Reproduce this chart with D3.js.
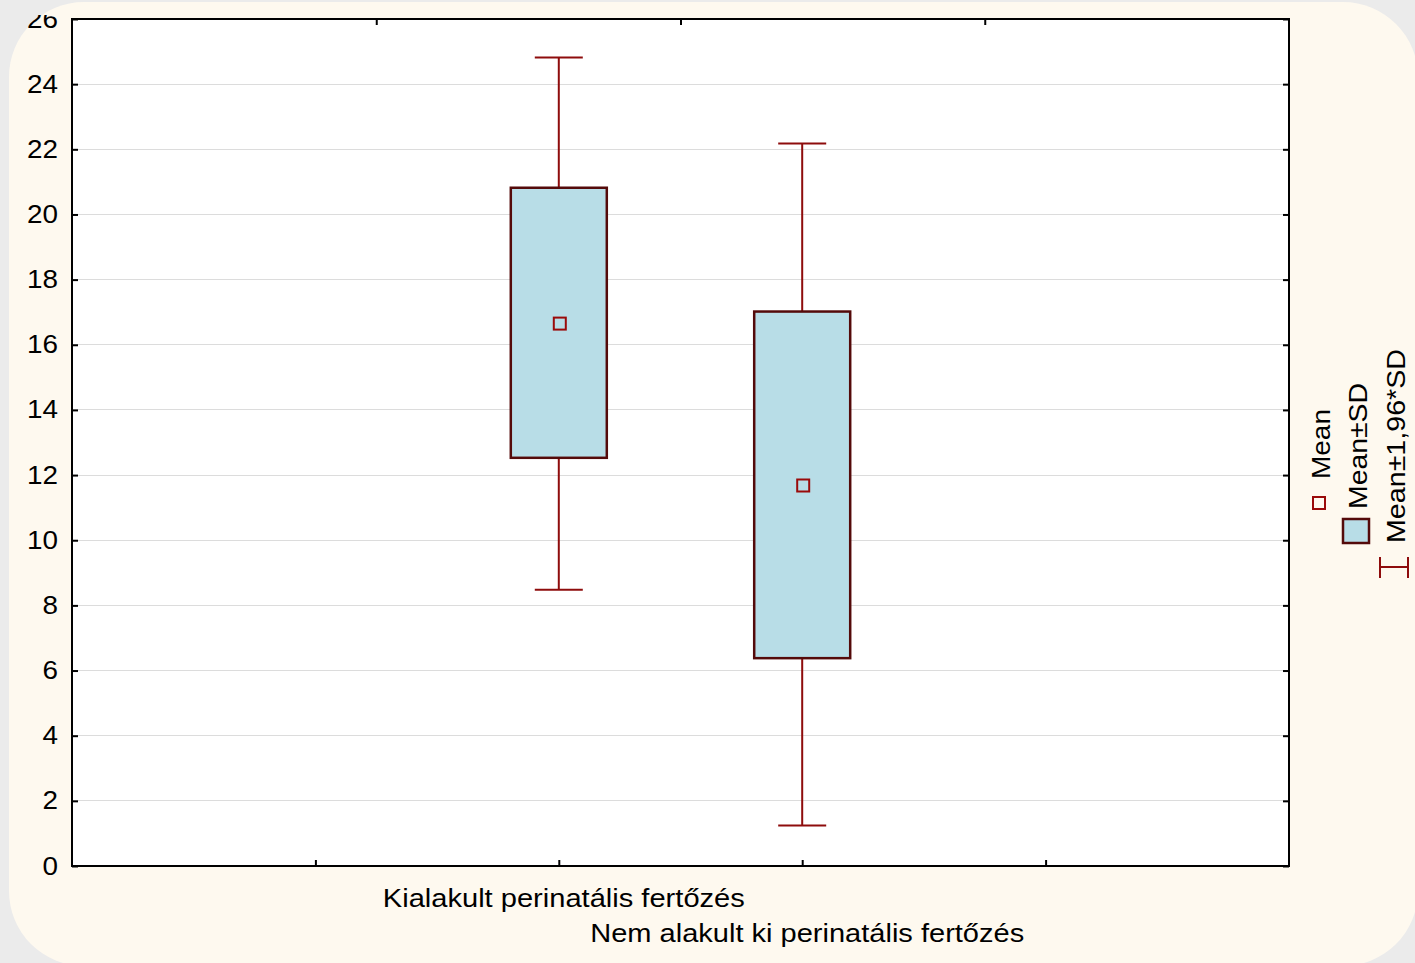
<!DOCTYPE html>
<html>
<head>
<meta charset="utf-8">
<script src="https://cdn.jsdelivr.net/npm/d3@7"></script>
<style>
  html, body { margin: 0; padding: 0; background: #ebebeb; }
  svg { display: block; font-family: Arial, "Liberation Sans", sans-serif; }
</style>
</head>
<body>
<div id="chart"></div>
<script>
// data
const categories = ["Kialakult perinatális fertőzés", "Nem alakult ki perinatális fertőzés"];
const means = [16.65, 11.68];
const sdLow = [12.53, 6.38];
const sdHigh = [20.82, 17.02];
const ciLow = [8.48, 1.24];
const ciHigh = [24.82, 22.18];
const yTicks = [0, 2, 4, 6, 8, 10, 12, 14, 16, 18, 20, 22, 24, 26];
const legendItems = ["Mean", "Mean±SD", "Mean±1,96*SD"];

const W = 1415, H = 963;
const margin = { left: 72, top: 19, right: 1289, bottom: 866 };
const whiskerColor = "#8e0c0c";
const boxStroke = "#540a0a";
const boxFill = "#b8dde7";

const svg = d3.select("#chart").append("svg")
  .attr("width", W).attr("height", H);

// cream panel
svg.append("rect")
  .attr("x", 9).attr("y", 2)
  .attr("width", 1409).attr("height", 964)
  .attr("rx", 75).attr("ry", 75)
  .attr("fill", "#fef9ef");

const clip = svg.append("defs").append("clipPath").attr("id", "lblclip");
clip.append("rect").attr("x", -200).attr("y", 15).attr("width", W + 200).attr("height", H);

// scales
const x = d3.scaleLinear().domain([0, 5]).range([margin.left, margin.right]);
const xTop = d3.scaleLinear().domain([0, 4]).range([margin.left, margin.right]);
const y = d3.scaleLinear().domain([0, 26]).range([margin.bottom, margin.top]);

// plot bg
svg.append("rect")
  .attr("x", margin.left).attr("y", margin.top)
  .attr("width", margin.right - margin.left)
  .attr("height", margin.bottom - margin.top)
  .attr("fill", "#fff");

// grid
svg.selectAll(".grid-line")
  .data(yTicks.filter(d => d > 0 && d < 26))
  .enter()
  .append("line")
  .attr("class", "grid-line")
  .attr("x1", margin.left).attr("x2", margin.right)
  .attr("y1", d => y(d)).attr("y2", d => y(d))
  .style("stroke", "#dcdcdc")
  .style("stroke-width", "1px")
  .style("shape-rendering", "crispEdges");

// axes
const axLeft = svg.append("g")
  .attr("transform", `translate(${margin.left},0)`)
  .attr("clip-path", "url(#lblclip)")
  .call(d3.axisLeft(y).tickValues(yTicks).tickSizeInner(-6).tickSizeOuter(0).tickPadding(14));
axLeft.select(".domain").remove();
axLeft.selectAll("line").attr("stroke", "#000").attr("stroke-width", 2);
axLeft.selectAll("text")
  .style("font-size", "25px")
  .attr("fill", "#000")
  .attr("font-family", "Arial, 'Liberation Sans', sans-serif")
  .attr("textLength", d => String(d).length * 15.5)
  .attr("lengthAdjust", "spacingAndGlyphs");

const axRight = svg.append("g")
  .attr("transform", `translate(${margin.right},0)`)
  .call(d3.axisRight(y).tickValues(yTicks).tickSizeInner(-6).tickSizeOuter(0).tickFormat(""));
axRight.select(".domain").remove();
axRight.selectAll("line").attr("stroke", "#000").attr("stroke-width", 2);

const axBottom = svg.append("g")
  .attr("transform", `translate(0,${margin.bottom})`)
  .call(d3.axisBottom(x).tickValues([1, 2, 3, 4]).tickSizeInner(-6).tickSizeOuter(0).tickFormat(""));
axBottom.select(".domain").remove();
axBottom.selectAll("line").attr("stroke", "#000").attr("stroke-width", 2);

const axTop = svg.append("g")
  .attr("transform", `translate(0,${margin.top})`)
  .call(d3.axisTop(xTop).tickValues([1, 2, 3]).tickSizeInner(-6).tickSizeOuter(0).tickFormat(""));
axTop.select(".domain").remove();
axTop.selectAll("line").attr("stroke", "#000").attr("stroke-width", 2);

// frame
svg.append("rect")
  .attr("x", margin.left).attr("y", margin.top)
  .attr("width", margin.right - margin.left)
  .attr("height", margin.bottom - margin.top)
  .attr("fill", "none")
  .attr("stroke", "#000")
  .attr("stroke-width", 2);

// category labels
const labelWidths = [362, 434];
categories.forEach((c, i) => {
  svg.append("text")
    .attr("x", x(i + 2) + 5)
    .attr("y", 907 + i * 35)
    .attr("text-anchor", "middle")
    .attr("font-size", "26px")
    .attr("fill", "#000")
    .attr("textLength", labelWidths[i])
    .attr("lengthAdjust", "spacingAndGlyphs")
    .text(c);
});

// boxes
const boxW = 96, capW = 48;
const grp = svg.selectAll(".grp")
  .data(categories.map((c, i) => ({ i, mean: means[i], lo: sdLow[i], hi: sdHigh[i], cl: ciLow[i], ch: ciHigh[i] })))
  .enter().append("g");

grp.append("line")
  .attr("x1", d => x(d.i + 2)).attr("x2", d => x(d.i + 2))
  .attr("y1", d => y(d.ch)).attr("y2", d => y(d.cl))
  .attr("stroke", whiskerColor).attr("stroke-width", 2);
grp.append("line")
  .attr("x1", d => x(d.i + 2) - capW / 2).attr("x2", d => x(d.i + 2) + capW / 2)
  .attr("y1", d => y(d.ch)).attr("y2", d => y(d.ch))
  .attr("stroke", whiskerColor).attr("stroke-width", 2);
grp.append("line")
  .attr("x1", d => x(d.i + 2) - capW / 2).attr("x2", d => x(d.i + 2) + capW / 2)
  .attr("y1", d => y(d.cl)).attr("y2", d => y(d.cl))
  .attr("stroke", whiskerColor).attr("stroke-width", 2);
grp.append("rect")
  .attr("x", d => x(d.i + 2) - boxW / 2)
  .attr("y", d => y(d.hi))
  .attr("width", boxW)
  .attr("height", d => y(d.lo) - y(d.hi))
  .attr("fill", boxFill)
  .attr("stroke", boxStroke)
  .attr("stroke-width", 2.5);
grp.append("rect")
  .attr("x", d => x(d.i + 2) - 5)
  .attr("y", d => y(d.mean) - 6)
  .attr("width", 12).attr("height", 12)
  .attr("fill", "none")
  .attr("stroke", "#9a0a0a")
  .attr("stroke-width", 2);

// legend (rotated)
const lg = svg.append("g");
// Mean marker
lg.append("rect").attr("x", 1313).attr("y", 497).attr("width", 12).attr("height", 12)
  .attr("fill", "none").attr("stroke", "#9a0a0a").attr("stroke-width", 2);
// SD box
lg.append("rect").attr("x", 1343).attr("y", 519).attr("width", 26).attr("height", 24)
  .attr("fill", boxFill).attr("stroke", boxStroke).attr("stroke-width", 2.5);
// whisker symbol
lg.append("line").attr("x1", 1380).attr("x2", 1408).attr("y1", 567).attr("y2", 567)
  .attr("stroke", whiskerColor).attr("stroke-width", 2);
lg.append("line").attr("x1", 1380).attr("x2", 1380).attr("y1", 557).attr("y2", 578)
  .attr("stroke", whiskerColor).attr("stroke-width", 2);
lg.append("line").attr("x1", 1408).attr("x2", 1408).attr("y1", 557).attr("y2", 578)
  .attr("stroke", whiskerColor).attr("stroke-width", 2);

const legendPos = [[1330, 479], [1367, 509], [1405, 543]];
const legendLen = [70, 126, 194];
legendItems.forEach((t, i) => {
  lg.append("text")
    .attr("transform", `translate(${legendPos[i][0]},${legendPos[i][1]}) rotate(-90)`)
    .attr("font-size", "26px")
    .attr("fill", "#000")
    .attr("textLength", legendLen[i])
    .attr("lengthAdjust", "spacingAndGlyphs")
    .text(t);
});
</script>
</body>
</html>
